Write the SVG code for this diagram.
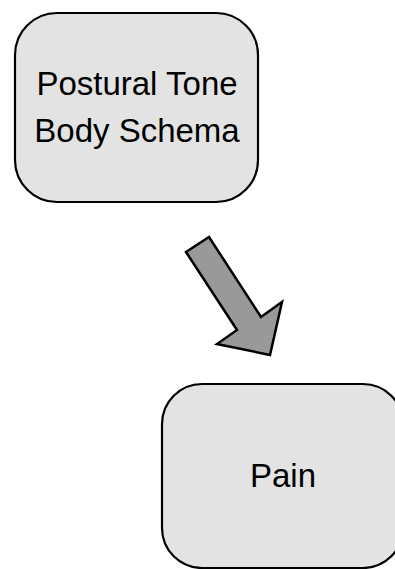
<svg xmlns="http://www.w3.org/2000/svg" width="395" height="569" viewBox="0 0 395 569">
<style>
.box{fill:#e3e3e3;stroke:#000;stroke-width:2.2}
.lbl{font-family:"Liberation Sans",Arial,sans-serif;font-size:33px;fill:#000;text-anchor:middle}
.arr{fill:#999;stroke:#000;stroke-width:2.5;stroke-linejoin:miter}
</style>
<rect width="395" height="569" fill="#fff"/>
<g id="node-postural">
<rect class="box" x="15" y="13" width="243" height="189" rx="42" ry="42"/>
<text class="lbl" x="137" y="95">Postural Tone</text>
<text class="lbl" x="137" y="142">Body Schema</text>
</g>
<g id="connectors">
<polygon class="arr" points="186,252 209,237 261,317 282,302 270,355 217,344 237,330"/>
</g>
<g id="node-pain">
<rect class="box" x="162" y="384" width="241" height="184" rx="40" ry="40"/>
<text class="lbl" x="283" y="487">Pain</text>
</g>
</svg>
